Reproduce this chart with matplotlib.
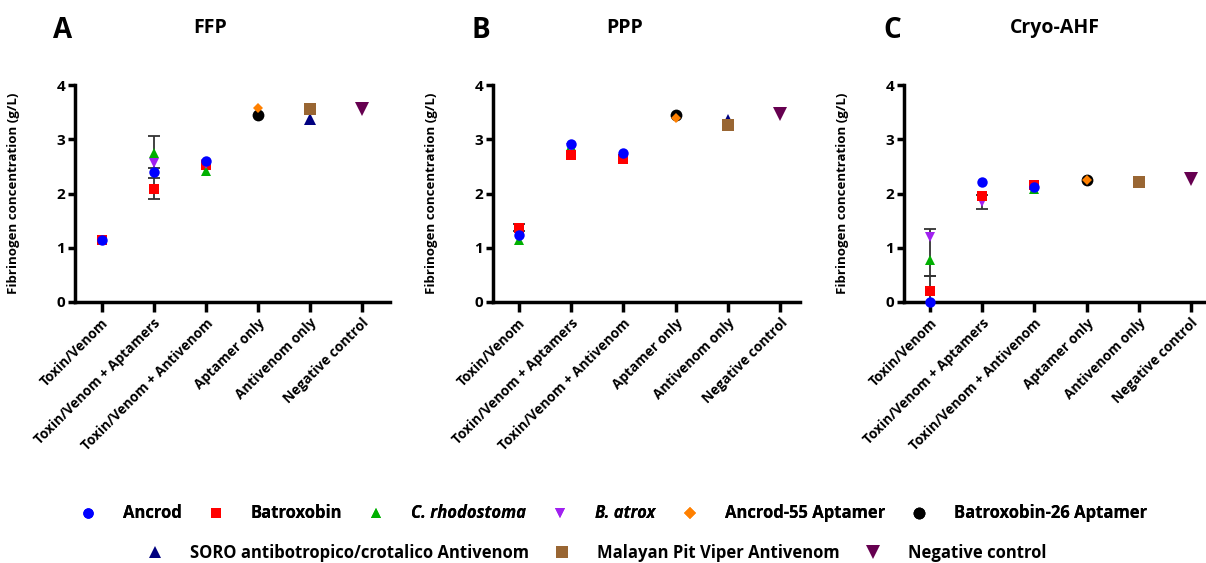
import matplotlib
matplotlib.use('Agg')
import matplotlib.pyplot as plt
from matplotlib.lines import Line2D

plt.rcParams['font.family'] = ['Open Sans', 'DejaVu Sans']
plt.rcParams['font.weight'] = 'bold'

groups = ['Toxin/Venom', 'Toxin/Venom + Aptamers', 'Toxin/Venom + Antivenom',
          'Aptamer only', 'Antivenom only', 'Negative control']

series = ['Ancrod', 'Batroxobin', 'C. rhodostoma', 'B. atrox', 'Ancrod-55 Aptamer',
          'Batroxobin-26 Aptamer', 'SORO antibotropico/crotalico Antivenom',
          'Malayan Pit Viper Antivenom', 'Negative control']
markers = ['o', 's', '^', 'v', 'D', 'o', '^', 's', 'v']
colors = ['#0000FF', '#FF0000', '#00B000', '#A020F0', '#FF8000', '#000000',
          '#000080', '#996633', '#660050']
sizes = [7.5, 7.5, 7.5, 7.5, 5.5, 8.5, 9, 9, 9.5]

# values per panel: {series: [(group index, value)]}, drawn back to front
ffp = {
    'Batroxobin': [(0, 1.15), (1, 2.08), (2, 2.52)],
    'C. rhodostoma': [(1, 2.75), (2, 2.42)],
    'B. atrox': [(1, 2.57), (2, 2.55)],
    'Ancrod': [(0, 1.15), (1, 2.39), (2, 2.60)],
    'Batroxobin-26 Aptamer': [(3, 3.45)],
    'Ancrod-55 Aptamer': [(3, 3.57)],
    'SORO antibotropico/crotalico Antivenom': [(4, 3.37)],
    'Malayan Pit Viper Antivenom': [(4, 3.55)],
    'Negative control': [(5, 3.55)],
}
ppp = {
    'C. rhodostoma': [(0, 1.15), (1, 2.87), (2, 2.65)],
    'B. atrox': [(1, 2.84)],
    'Batroxobin': [(0, 1.36), (1, 2.71), (2, 2.63)],
    'Ancrod': [(0, 1.24), (1, 2.92), (2, 2.74)],
    'Batroxobin-26 Aptamer': [(3, 3.45)],
    'Ancrod-55 Aptamer': [(3, 3.40)],
    'SORO antibotropico/crotalico Antivenom': [(4, 3.35)],
    'Malayan Pit Viper Antivenom': [(4, 3.27)],
    'Negative control': [(5, 3.47)],
}
cryo = {
    'C. rhodostoma': [(0, 0.78), (2, 2.08)],
    'B. atrox': [(0, 1.20), (1, 1.85)],
    'Batroxobin': [(0, 0.20), (1, 1.95), (2, 2.15)],
    'Ancrod': [(0, 0.0), (1, 2.22), (2, 2.12)],
    'Batroxobin-26 Aptamer': [(3, 2.24)],
    'Ancrod-55 Aptamer': [(3, 2.24)],
    'Malayan Pit Viper Antivenom': [(4, 2.21)],
    'Negative control': [(5, 2.26)],
}
# error bars: (group index, low, high)
ffp_err = [(1, 1.90, 3.06), (1, 2.28, 2.47)]
ppp_err = [(0, 1.30, 1.43), (4, 3.25, 3.29)]
cryo_err = [(0, 0.0, 0.48), (0, 0.48, 1.34), (1, 1.72, 1.98)]

panels = [
    ('A', 'FFP', 0.43, ffp, ffp_err, [0.0622, 0.4636, 0.2612, 0.3854], (-0.51, 5.54)),
    ('B', 'PPP', 0.43, ppp, ppp_err, [0.4088, 0.4636, 0.2546, 0.3854], (-0.49, 5.38)),
    ('C', 'Cryo-AHF', 0.50, cryo, cryo_err, [0.7496, 0.4636, 0.2496, 0.3854], (-0.50, 5.27)),
]

fig = plt.figure(figsize=(12.06, 5.63), dpi=100)

for letter, title, title_x, data, errs, pos, xlim in panels:
    ax = fig.add_axes(pos)
    for x, lo, hi in errs:
        ax.errorbar([x], [(lo + hi) / 2], yerr=[[(hi - lo) / 2], [(hi - lo) / 2]],
                    fmt='none', ecolor='#333333', elinewidth=1.3, capsize=4,
                    capthick=1.3, clip_on=False, zorder=2)
    for name, pts in data.items():
        i = series.index(name)
        xs = [p[0] for p in pts]
        ys = [p[1] for p in pts]
        ax.plot(xs, ys, linestyle='none', marker=markers[i], color=colors[i],
                markersize=sizes[i], markeredgewidth=0, clip_on=False, zorder=3)
    ax.set_xlim(*xlim)
    ax.set_ylim(0, 4)
    ax.set_yticks([0, 1, 2, 3, 4])
    ax.set_xticks(range(len(groups)))
    ax.set_xticklabels(groups, rotation=45, ha='right', rotation_mode='anchor',
                       fontsize=9.8, fontweight='bold')
    ax.tick_params(axis='y', labelsize=11, width=2.5, length=5, pad=2)
    ax.tick_params(axis='x', width=2.5, length=7, pad=3)
    for s in ['top', 'right']:
        ax.spines[s].set_visible(False)
    for s in ['left', 'bottom']:
        ax.spines[s].set_linewidth(2.5)
    ax.set_ylabel('Fibrinogen concentration (g/L)', fontsize=9.5, fontweight='bold')
    ax.yaxis.set_label_coords(-0.175 * 0.2612 / pos[2], 0.5)
    ax.text(-0.07, 1.25, letter, transform=ax.transAxes, fontsize=20,
            fontweight='bold', ha='left', va='center')
    ax.text(title_x, 1.265, title, transform=ax.transAxes, fontsize=14,
            fontweight='bold', ha='center', va='center')

handles = [Line2D([], [], linestyle='none', marker=markers[i], color=colors[i],
                  markersize=sizes[i] if i != 4 else 6, markeredgewidth=0)
           for i in range(len(series))]

leg1 = fig.legend(handles[:6], series[:6], loc='center', ncol=6,
                  bbox_to_anchor=(0.508, 0.088), frameon=False, fontsize=12,
                  handletextpad=1.5, columnspacing=1.45, handlelength=1.2)
for t in leg1.get_texts()[2:4]:
    t.set_fontstyle('italic')
fig.add_artist(leg1)
fig.legend(handles[6:], series[6:], loc='center', ncol=3,
           bbox_to_anchor=(0.494, 0.018), frameon=False, fontsize=12,
           handletextpad=1.5, columnspacing=1.4, handlelength=1.2)

fig.savefig('out.png', dpi=100)
